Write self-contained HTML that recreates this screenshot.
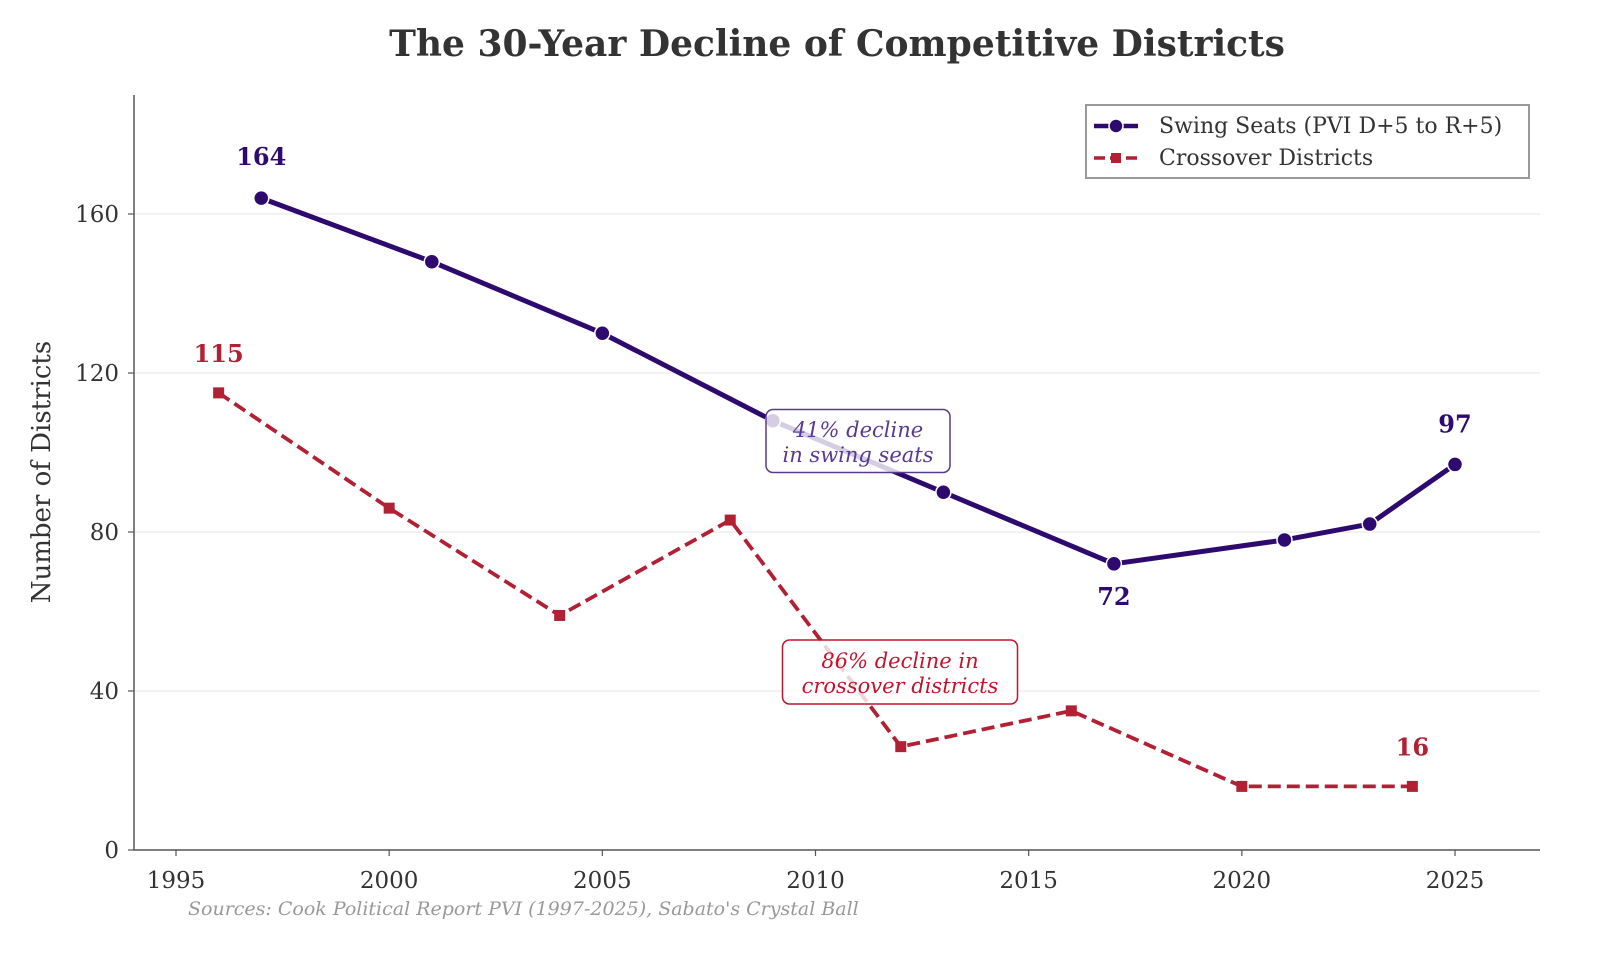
<!DOCTYPE html>
<html><head><meta charset="utf-8"><style>
body{margin:0;background:#fff;overflow:hidden;}
svg{display:block;font-family:"DejaVu Serif","Liberation Serif",serif;}
</style></head><body>
<svg id="chart" width="1600" height="965" viewBox="0 0 1600 965" xmlns="http://www.w3.org/2000/svg">
<text x="837" y="56" text-anchor="middle" font-size="36" font-weight="bold" fill="#333">The 30-Year Decline of Competitive Districts</text>
<g id="grid"></g>
<g id="axes"></g>
<g id="series"></g>
<g id="labels"></g>
<text transform="translate(50,472) rotate(-90)" text-anchor="middle" font-size="26" fill="#333">Number of Districts</text>
<text x="188" y="915" font-size="19" font-style="italic" fill="#999">Sources: Cook Political Report PVI (1997-2025), Sabato's Crystal Ball</text>
<g>
<rect x="1086" y="105" width="443" height="73" fill="#fff" stroke="#999" stroke-width="2"/>
<line x1="1094" y1="126" x2="1138" y2="126" stroke="#2e0a6e" stroke-width="4.5"/>
<circle cx="1116" cy="126" r="7" fill="#2e0a6e" stroke="#fff" stroke-width="1.5"/>
<text x="1159" y="133" font-size="22" fill="#333">Swing Seats (PVI D+5 to R+5)</text>
<line x1="1094" y1="158" x2="1138" y2="158" stroke="#b22034" stroke-width="3.5" stroke-dasharray="11,5"/>
<rect x="1111" y="153" width="10" height="10" fill="#b22034"/>
<text x="1159" y="165" font-size="22" fill="#333">Crossover Districts</text>
</g>
</svg>
<script>
const swingYears=[1997,2001,2005,2009,2013,2017,2021,2023,2025];
const swingVals=[164,148,130,108,90,72,78,82,97];
const crossYears=[1996,2000,2004,2008,2012,2016,2020,2024];
const crossVals=[115,86,59,83,26,35,16,16];
const xTicks=[1995,2000,2005,2010,2015,2020,2025];
const yTicks=[0,40,80,120,160];
const NS="http://www.w3.org/2000/svg";
const X=y=>176+(y-1995)*(1455-176)/30;
const Y=v=>850-v*(850-214)/160;
function mk(tag,attrs,parent,txt){const e=document.createElementNS(NS,tag);for(const k in attrs)e.setAttribute(k,attrs[k]);if(txt!=null)e.textContent=txt;document.getElementById(parent).appendChild(e);return e;}
yTicks.forEach(v=>{
 if(v>0){const g=mk('line',{x1:134,x2:1540,y1:Y(v),y2:Y(v),stroke:'#e6e6e6','stroke-width':1},'grid');
 
 }
 const t=mk('line',{x1:128,x2:134,y1:Y(v),y2:Y(v),stroke:'#555','stroke-width':1.2},'axes');
 
 
 const l=mk('text',{x:119,y:Y(v)+8,'text-anchor':'end','font-size':23,fill:'#333'},'axes',v);
 
 
});
xTicks.forEach(v=>{
 const t=mk('line',{x1:X(v),x2:X(v),y1:850,y2:856,stroke:'#555','stroke-width':1.2},'axes');
 
 
 const l=mk('text',{x:X(v),y:888,'text-anchor':'middle','font-size':23,fill:'#333'},'axes',v);
 
 
});
const ax=mk('path',{d:'M134,95 V850 H1540',fill:'none',stroke:'#555','stroke-width':1.5},'axes');


const cp=mk('polyline',{points:crossYears.map((y,i)=>X(y)+','+Y(crossVals[i])).join(' '),fill:'none',stroke:'#b22034','stroke-width':3.8,'stroke-dasharray':'13,6'},'series');


crossYears.forEach((y,i)=>{const r=mk('rect',{x:X(y)-5.5,y:Y(crossVals[i])-5.5,width:11,height:11,fill:'#b22034'},'series');
 
 });
const sp=mk('polyline',{points:swingYears.map((y,i)=>X(y)+','+Y(swingVals[i])).join(' '),fill:'none',stroke:'#2e0a6e','stroke-width':5},'series');


swingYears.forEach((y,i)=>{const c=mk('circle',{cx:X(y),cy:Y(swingVals[i]),r:7.5,fill:'#2e0a6e',stroke:'#fff','stroke-width':1.5},'series');
 
 });
function vl(x,y,t,c){const e=mk('text',{x:x,y:y,'text-anchor':'middle','font-size':24,'font-weight':'bold',fill:c},'labels',t);
 
 }
vl(X(1997),Y(164)-33,swingVals[0],'#2e0a6e');
vl(X(2017),Y(72)+41,swingVals[5],'#2e0a6e');
vl(X(2025),Y(97)-32,swingVals[8],'#2e0a6e');
vl(X(1996),Y(115)-31,crossVals[0],'#b22034');
vl(X(2024),Y(16)-31,crossVals[7],'#b22034');
function box(cx,cy,w,h,c,l1,l2,name){
 const r=mk('rect',{x:cx-w/2,y:cy-h/2,width:w,height:h,rx:7,fill:'rgba(255,255,255,0.8)',stroke:c,'stroke-width':1.5},'labels');
 
 
 [l1,l2].forEach((t,i)=>{const e=mk('text',{x:cx,y:cy-4+i*25,'text-anchor':'middle','font-size':21,'font-style':'italic',fill:c},'labels',t);
 
 });
}
box(858,441,184,63,'#5a3a90','41% decline','in swing seats','swing-annotation');
box(900,672,235,64,'#c0142e','86% decline in','crossover districts','crossover-annotation');
</script>
</body></html>
